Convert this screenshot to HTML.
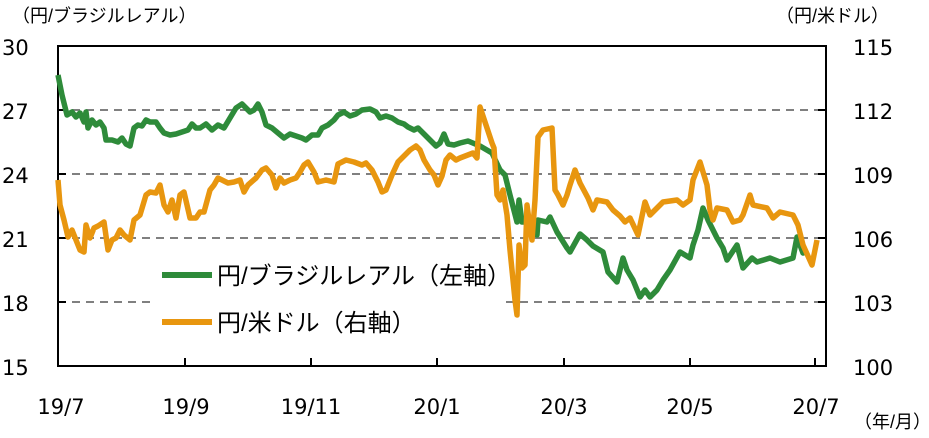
<!DOCTYPE html>
<html><head><meta charset="utf-8"><style>
body{margin:0;background:#fff;width:929px;height:433px;overflow:hidden}
svg text{font-family:"DejaVu Sans","Noto Sans CJK JP",sans-serif;fill:#000}
svg text.j{font-family:"Liberation Sans","Noto Sans CJK JP",sans-serif}
</style></head><body>
<svg width="929" height="433" viewBox="0 0 929 433">
<g stroke="#808080" stroke-width="2" stroke-dasharray="8,6">
<line x1="58" y1="110" x2="826" y2="110"/>
<line x1="58" y1="174" x2="826" y2="174"/>
<line x1="58" y1="238" x2="826" y2="238"/>
<line x1="58" y1="302" x2="826" y2="302"/>
</g>
<rect x="150" y="252" width="355" height="95" fill="#fff"/>
<g stroke="#000" stroke-width="2">
<rect x="58" y="46" width="768" height="320" fill="none"/>
<line x1="185" y1="366" x2="185" y2="358"/><line x1="311" y1="366" x2="311" y2="358"/>
<line x1="437" y1="366" x2="437" y2="358"/><line x1="564" y1="366" x2="564" y2="358"/>
<line x1="690" y1="366" x2="690" y2="358"/><line x1="815" y1="366" x2="815" y2="358"/>
<line x1="58" y1="110" x2="66" y2="110"/><line x1="58" y1="174" x2="66" y2="174"/><line x1="58" y1="238" x2="66" y2="238"/><line x1="58" y1="302" x2="66" y2="302"/>
<line x1="818" y1="110" x2="826" y2="110"/><line x1="818" y1="174" x2="826" y2="174"/><line x1="818" y1="238" x2="826" y2="238"/><line x1="818" y1="302" x2="826" y2="302"/>
</g>
<g fill="none" stroke-width="5.5" stroke-linejoin="round">
<polyline stroke="#2e8b3a" points="58,75 62,95 67,115 72,112 76,117 80,113 84,122 86,112 88,128 92,120 96,125 100,122 104,128 106,140 112,140 118,142 122,138 126,144 130,146 134,128 138,125 142,126 146,120 150,122 156,122 160,128 164,133 170,135 176,134 182,132 188,130 192,124 196,128 200,128 206,124 212,130 218,125 224,128 230,118 236,108 242,104 246,108 250,112 254,110 258,104 262,112 266,125 272,128 278,133 284,138 290,134 296,136 302,138 306,140 312,135 318,135 322,128 328,125 334,120 338,115 344,112 350,116 356,114 362,110 370,109 376,112 380,118 386,116 392,118 398,122 404,124 408,127 414,130 418,128 424,134 430,140 436,146 440,143 444,134 448,144 454,145 460,143 468,141 480,146 492,153 500,170 505,175 510,195 517,222 519,200 522,222 525,222 530,228 537,235 538,220 547,222 550,217 557,232 567,248 570,252 580,234 587,240 593,246 603,252 608,272 617,282 623,258 627,270 633,280 640,297 645,290 650,297 657,290 663,280 670,270 680,252 690,258 693,245 698,230 703,208 708,220 717,238 723,248 727,260 737,245 743,268 752,258 757,262 770,258 780,262 793,258 797,237 803,253 807,250"/>
<polyline stroke="#e8960f" points="58,180 60,205 64,220 68,237 72,230 76,240 80,250 84,252 86,225 90,238 94,228 98,226 104,222 108,250 112,240 116,238 120,230 124,235 130,240 134,220 140,215 146,195 150,192 156,193 160,185 164,205 168,212 172,200 176,218 180,195 184,192 190,218 196,218 200,212 204,212 210,190 214,185 218,178 222,180 228,183 234,182 240,180 244,192 248,185 256,178 262,170 266,168 272,175 276,188 280,178 284,183 290,180 296,178 300,172 304,165 308,162 314,172 318,182 326,180 334,182 338,164 346,160 354,162 362,165 366,163 372,170 378,182 382,192 386,190 392,175 398,162 404,156 410,150 416,146 420,150 424,160 430,170 434,175 438,185 442,176 446,160 450,155 456,160 460,158 473,153 477,158 480,107 487,128 492,143 494,148 497,195 500,200 503,190 507,215 510,250 515,300 517,315 519,245 522,268 525,265 527,205 529,220 532,240 535,200 538,137 543,130 552,128 555,190 558,195 563,205 567,195 570,185 575,170 580,183 588,198 593,210 597,200 607,202 613,210 620,216 625,222 630,218 638,235 645,202 650,215 663,202 677,200 683,205 690,200 693,180 700,162 707,185 710,210 713,220 717,208 727,210 733,222 740,220 743,215 750,195 753,205 767,208 773,218 780,212 793,215 798,225 803,245 812,265 815,250 817,240"/>
<line x1="162" y1="275" x2="212" y2="275" stroke="#2e8b3a" stroke-width="6"/>
<line x1="162" y1="322" x2="212" y2="322" stroke="#e8960f" stroke-width="6"/>
</g>
<g font-size="24" class="j">
<text class="j" x="217" y="284">円/ブラジルレアル（左軸）</text>
<text class="j" x="217" y="331">円/米ドル（右軸）</text>
</g>
<g font-size="21">
<text x="2" y="55">30</text><text x="2" y="119">27</text><text x="2" y="183">24</text><text x="2" y="247">21</text><text x="2" y="311">18</text><text x="2" y="375">15</text>
<text x="853" y="55">115</text><text x="853" y="119">112</text><text x="853" y="183">109</text><text x="853" y="247">106</text><text x="853" y="311">103</text><text x="853" y="375">100</text>
</g>
<g font-size="21" text-anchor="middle">
<text x="61" y="414">19/7</text><text x="186" y="414">19/9</text><text x="311" y="414">19/11</text><text x="437" y="414">20/1</text><text x="564" y="414">20/3</text><text x="690" y="414">20/5</text><text x="816" y="414">20/7</text>
</g>
<g font-size="18">
<text class="j" x="12" y="22">（円/ブラジルレアル）</text>
<text class="j" x="776" y="22">（円/米ドル）</text>
<text class="j" x="854" y="428">（年/月）</text>
</g>
</svg>
</body></html>
